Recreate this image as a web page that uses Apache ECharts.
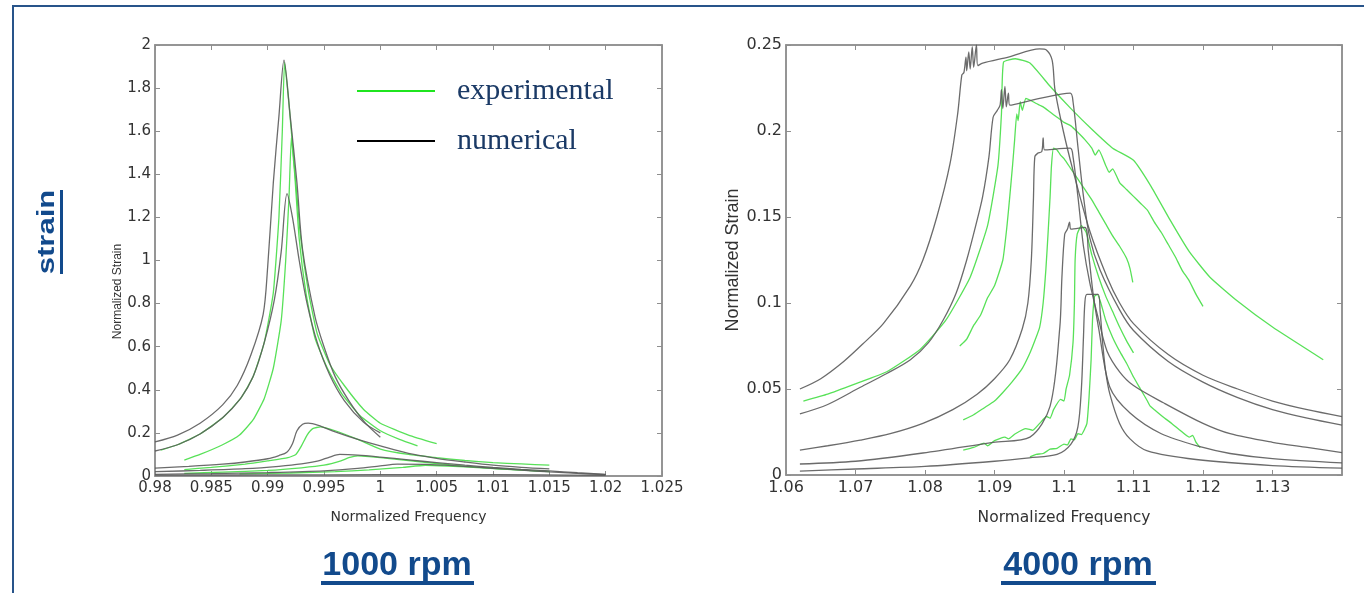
<!DOCTYPE html>
<html>
<head>
<meta charset="utf-8">
<title>Normalized strain vs frequency</title>
<script src="https://cdn.jsdelivr.net/npm/echarts@6/dist/echarts.min.js"></script>
<style>
  html, body { margin: 0; padding: 0; background: #ffffff; }
  #chart { width: 1364px; height: 593px; }
</style>
</head>
<body>
<div id="chart"></div>
<script>
// ---------- 1000 rpm : numerical response curves [frequency, strain] ----------
const num1000A = [[0.98,0.158],[0.982,0.19],[0.984,0.245],[0.986,0.33],[0.9873,0.42],[0.9885,0.56],[0.9896,0.75],[0.99,0.97],[0.9905,1.36],[0.991,1.67],[0.99145,1.93],[0.992,1.67],[0.9926,1.36],[0.9931,1.05],[0.9942,0.74],[0.995,0.6],[0.996,0.46],[0.9972,0.35],[0.9986,0.25],[1.0,0.18]];
const num1000B = [[0.98,0.116],[0.982,0.145],[0.984,0.195],[0.986,0.27],[0.9876,0.36],[0.9887,0.46],[0.9897,0.62],[0.9906,0.82],[0.9912,1.04],[0.99172,1.31],[0.9922,1.2],[0.9928,1.0],[0.9935,0.8],[0.9944,0.62],[0.9955,0.47],[0.9968,0.35],[0.9985,0.25],[1.0,0.2]];
const num1000C = [[0.98,0.037],[0.983,0.045],[0.986,0.055],[0.988,0.065],[0.99,0.08],[0.991,0.095],[0.9917,0.11],[0.9922,0.15],[0.9926,0.21],[0.9931,0.24],[0.9936,0.245],[0.9945,0.235],[0.996,0.205],[0.998,0.17],[1.0,0.14],[1.0025,0.105],[1.005,0.082],[1.0075,0.065],[1.01,0.05],[1.0125,0.04],[1.015,0.033]];
const num1000D = [[0.98,0.02],[0.984,0.026],[0.988,0.034],[0.991,0.045],[0.993,0.056],[0.9945,0.07],[0.9955,0.088],[0.9964,0.1],[0.998,0.097],[1.0,0.088],[1.0025,0.075],[1.005,0.062],[1.0075,0.05],[1.01,0.04],[1.0125,0.031],[1.015,0.024],[1.0175,0.015],[1.02,0.008]];
const num1000E = [[0.98,0.008],[0.985,0.011],[0.99,0.016],[0.995,0.024],[0.998,0.035],[1.0,0.047],[1.0015,0.055],[1.004,0.054],[1.007,0.046],[1.01,0.036],[1.0125,0.027],[1.015,0.019],[1.0175,0.012],[1.02,0.006]];
const num1000F = [[0.98,0.004],[0.99,0.005],[1.0,0.006],[1.01,0.006],[1.02,0.003]];

// ---------- 1000 rpm : measured curves ----------
const exp1000A = [[0.9805,0.12],[0.982,0.145],[0.984,0.195],[0.986,0.27],[0.9876,0.36],[0.9887,0.46],[0.9897,0.62],[0.9905,0.85],[0.991,1.2],[0.9913,1.6],[0.9915,1.92],[0.9919,1.72],[0.9924,1.42],[0.9929,1.12],[0.9936,0.86],[0.9944,0.66],[0.9955,0.52],[0.9968,0.42],[0.9985,0.31],[1.0,0.245],[1.0025,0.19],[1.005,0.15]];
const exp1000B = [[0.9826,0.074],[0.984,0.1],[0.986,0.145],[0.9875,0.19],[0.9887,0.26],[0.9897,0.36],[0.9905,0.5],[0.9912,0.72],[0.9916,1.0],[0.9919,1.3],[0.9921,1.57],[0.9924,1.4],[0.9928,1.1],[0.9934,0.85],[0.9942,0.64],[0.9953,0.5],[0.9966,0.38],[0.9982,0.28],[1.0,0.21],[1.0017,0.17],[1.0033,0.14]];
const exp1000C = [[0.9826,0.03],[0.985,0.04],[0.988,0.055],[0.99,0.07],[0.9918,0.085],[0.9925,0.1],[0.993,0.14],[0.9935,0.19],[0.994,0.22],[0.9947,0.228],[0.996,0.21],[0.998,0.17],[1.0,0.125],[1.0025,0.1],[1.005,0.085],[1.0075,0.072],[1.01,0.062],[1.0125,0.056],[1.015,0.05]];
const exp1000D = [[0.9826,0.012],[0.986,0.018],[0.99,0.026],[0.993,0.038],[0.995,0.05],[0.9965,0.07],[0.9972,0.085],[0.998,0.093],[0.999,0.09],[1.0,0.085],[1.0025,0.072],[1.005,0.058],[1.0075,0.046],[1.01,0.036],[1.0125,0.028],[1.015,0.02]];
const exp1000E = [[0.9875,0.01],[0.992,0.014],[0.996,0.02],[0.999,0.028],[1.002,0.04],[1.004,0.05],[1.006,0.046],[1.009,0.038],[1.012,0.029],[1.015,0.021]];

// ---------- 4000 rpm : numerical response curves ----------
const num4000A = [[1.062,0.05],[1.065,0.056],[1.0683,0.066],[1.071,0.076],[1.074,0.088],[1.0779,0.11],[1.0797,0.125],[1.0817,0.15],[1.0836,0.181],[1.0847,0.21],[1.0853,0.2326],[1.0856,0.234],[1.0859,0.243],[1.086,0.235],[1.0863,0.246],[1.0865,0.236],[1.0868,0.249],[1.087,0.237],[1.0874,0.25],[1.0876,0.238],[1.0883,0.2395],[1.092,0.243],[1.0965,0.2477],[1.0975,0.247],[1.0983,0.241],[1.0987,0.224],[1.0999,0.2],[1.1013,0.177],[1.1037,0.142],[1.1062,0.115],[1.108,0.1],[1.11,0.088],[1.115,0.07],[1.12,0.058],[1.125,0.05],[1.13,0.043],[1.135,0.038],[1.14,0.034]];
const num4000B = [[1.062,0.0355],[1.066,0.041],[1.0707,0.051],[1.0745,0.059],[1.0779,0.067],[1.0805,0.077],[1.0826,0.09],[1.0845,0.106],[1.086,0.125],[1.0873,0.145],[1.0883,0.162],[1.0892,0.185],[1.0898,0.208],[1.0904,0.212],[1.0908,0.215],[1.091,0.224],[1.0912,0.213],[1.0915,0.226],[1.0917,0.214],[1.092,0.222],[1.0922,0.215],[1.0965,0.219],[1.1009,0.222],[1.1013,0.217],[1.102,0.191],[1.1028,0.162],[1.1037,0.138],[1.1052,0.119],[1.108,0.096],[1.11,0.084],[1.115,0.066],[1.12,0.054],[1.125,0.045],[1.13,0.038],[1.135,0.033],[1.14,0.029]];
const num4000C = [[1.062,0.0145],[1.066,0.017],[1.0707,0.0203],[1.075,0.024],[1.0797,0.03],[1.084,0.038],[1.0875,0.047],[1.09,0.056],[1.0922,0.067],[1.094,0.085],[1.0948,0.1],[1.0953,0.125],[1.0956,0.16],[1.0958,0.185],[1.0962,0.187],[1.0968,0.188],[1.097,0.196],[1.0972,0.189],[1.1009,0.19],[1.1013,0.185],[1.102,0.162],[1.1028,0.133],[1.1037,0.112],[1.105,0.09],[1.1062,0.072],[1.108,0.06],[1.11,0.052],[1.1143,0.042],[1.12,0.03],[1.1239,0.024],[1.13,0.019],[1.135,0.016],[1.14,0.013]];
const num4000D = [[1.062,0.0064],[1.07,0.008],[1.0797,0.0128],[1.0898,0.019],[1.0951,0.022],[1.098,0.04],[1.0994,0.086],[1.0997,0.115],[1.1001,0.14],[1.1005,0.143],[1.1008,0.147],[1.101,0.143],[1.103,0.144],[1.1035,0.13],[1.1042,0.105],[1.105,0.085],[1.1066,0.051],[1.1095,0.036],[1.114,0.024],[1.12,0.016],[1.1239,0.0125],[1.13,0.0095],[1.14,0.007]];
const num4000E = [[1.062,0.0023],[1.07,0.0035],[1.08,0.005],[1.09,0.008],[1.095,0.01],[1.099,0.012],[1.101,0.018],[1.102,0.028],[1.1025,0.05],[1.1028,0.08],[1.103,0.1],[1.1033,0.105],[1.1049,0.105],[1.1052,0.095],[1.1056,0.075],[1.106,0.06],[1.1066,0.047],[1.108,0.03],[1.1095,0.021],[1.112,0.014],[1.119,0.009],[1.13,0.0055],[1.14,0.004]];

// ---------- 4000 rpm : measured curves ----------
const exp4000A = [[1.0625,0.043],[1.066,0.047],[1.07,0.053],[1.0745,0.06],[1.0793,0.073],[1.083,0.09],[1.0865,0.115],[1.089,0.145],[1.0905,0.18],[1.091,0.21],[1.0913,0.24],[1.093,0.242],[1.0951,0.2395],[1.098,0.226],[1.101,0.213],[1.104,0.201],[1.107,0.19],[1.11,0.183],[1.1125,0.168],[1.1153,0.148],[1.118,0.13],[1.121,0.115],[1.125,0.101],[1.13,0.086],[1.1373,0.067]];
const exp4000B = [[1.085,0.075],[1.086,0.079],[1.087,0.087],[1.088,0.093],[1.089,0.103],[1.09,0.11],[1.0912,0.125],[1.0918,0.145],[1.0922,0.162],[1.0926,0.18],[1.0929,0.195],[1.0932,0.21],[1.0934,0.206],[1.0937,0.217],[1.094,0.212],[1.0945,0.219],[1.0951,0.218],[1.096,0.216],[1.097,0.214],[1.098,0.211],[1.099,0.208],[1.1,0.205],[1.101,0.203],[1.1018,0.2],[1.103,0.195],[1.104,0.19],[1.1045,0.186],[1.105,0.189],[1.106,0.18],[1.1065,0.176],[1.107,0.178],[1.108,0.17],[1.109,0.166],[1.11,0.162],[1.111,0.158],[1.112,0.154],[1.113,0.147],[1.114,0.141],[1.115,0.134],[1.116,0.127],[1.117,0.119],[1.118,0.113],[1.119,0.105],[1.12,0.098]];
const exp4000C = [[1.0855,0.032],[1.087,0.035],[1.0885,0.039],[1.09,0.043],[1.0912,0.048],[1.0925,0.054],[1.094,0.062],[1.095,0.07],[1.0958,0.078],[1.0965,0.086],[1.097,0.1],[1.0974,0.12],[1.0977,0.14],[1.098,0.162],[1.0982,0.18],[1.0985,0.19],[1.099,0.189],[1.0995,0.186],[1.1,0.184],[1.101,0.178],[1.102,0.172],[1.103,0.166],[1.104,0.16],[1.105,0.153],[1.106,0.146],[1.107,0.139],[1.108,0.133],[1.109,0.126],[1.1095,0.12],[1.1099,0.112]];
const exp4000D = [[1.0855,0.0145],[1.087,0.016],[1.0885,0.0185],[1.089,0.017],[1.09,0.02],[1.0915,0.022],[1.092,0.021],[1.093,0.024],[1.0945,0.027],[1.0955,0.026],[1.0965,0.03],[1.0975,0.034],[1.098,0.033],[1.0985,0.038],[1.0995,0.044],[1.1,0.043],[1.1003,0.05],[1.1008,0.058],[1.1013,0.077],[1.1015,0.1],[1.1016,0.125],[1.1019,0.14],[1.1025,0.145],[1.1032,0.141],[1.104,0.128],[1.105,0.115],[1.106,0.104],[1.107,0.095],[1.108,0.086],[1.109,0.078],[1.11,0.071]];
const exp4000E = [[1.0951,0.0105],[1.096,0.012],[1.097,0.0125],[1.098,0.015],[1.099,0.0155],[1.1,0.018],[1.1005,0.0175],[1.101,0.021],[1.1015,0.0205],[1.102,0.024],[1.1025,0.0235],[1.103,0.027],[1.1033,0.03],[1.1036,0.045],[1.1039,0.067],[1.1041,0.09],[1.1044,0.104],[1.1048,0.105],[1.1053,0.1],[1.106,0.09],[1.107,0.08],[1.108,0.072],[1.109,0.065],[1.1095,0.061],[1.11,0.057],[1.111,0.05],[1.112,0.043],[1.1124,0.04],[1.113,0.038],[1.1145,0.033],[1.1155,0.03],[1.1167,0.026],[1.118,0.022],[1.1185,0.023],[1.119,0.019],[1.1196,0.016]];

// ---------- axis ranges ----------
const freqRange1000 = { min: 0.98, max: 1.025, step: 0.005 };
const strainRange1000 = { min: 0, max: 2, step: 0.2 };
const freqRange4000 = { min: 1.06, max: 1.14, step: 0.01 };
const strainRange4000 = { min: 0, max: 0.25, step: 0.05 };

const legendNames = ['experimental', 'numerical'];
const panelTitles = ['1000 rpm', '4000 rpm'];
const sideTitle = 'strain';
const axisNames = { x: 'Normalized Frequency', y: 'Normalized Strain' };

// ---------- styling ----------
const NUM_COLOR = '#5b5b5b';
const EXP_COLOR = '#4fdf4f';
const FRAME = '#8e8e8e';
const TICK_TEXT = '#333333';
const NAVY = '#124a8c';

const chart = echarts.init(document.getElementById('chart'), null, { renderer: 'canvas' });

function frameAxes(gridIndex, range, kind, labelSize, nameSize, nameGap, nameFont, namePadding) {
  const line = { show: true, onZero: false, lineStyle: { color: FRAME, width: 1.5 } };
  const tick = { show: true, inside: true, length: 5, lineStyle: { color: FRAME, width: 1 } };
  const isX = kind === 'x';
  const main = {
    gridIndex, type: 'value', min: range.min, max: range.max, interval: range.step,
    position: isX ? 'bottom' : 'left',
    axisLine: line, axisTick: tick, splitLine: { show: false },
    axisLabel: { fontFamily: 'DejaVu Sans', fontSize: labelSize, color: TICK_TEXT, margin: isX ? 5 : 4 },
    name: isX ? axisNames.x : axisNames.y,
    nameLocation: 'middle', nameGap: nameGap,
    nameTextStyle: { fontFamily: nameFont, fontSize: nameSize, color: TICK_TEXT, padding: namePadding || 0 }
  };
  const mirror = {
    gridIndex, type: 'value', min: range.min, max: range.max, interval: range.step,
    position: isX ? 'top' : 'right',
    axisLine: line, axisTick: tick, splitLine: { show: false }, axisLabel: { show: false }
  };
  return [main, mirror];
}

const xAxes = [
  ...frameAxes(0, freqRange1000, 'x', 15, 14, 34, 'DejaVu Sans'),
  ...frameAxes(1, freqRange4000, 'x', 16, 15.5, 35, 'DejaVu Sans')
];
xAxes[2].axisLabel.showMaxLabel = false;
const yAxes = [
  // the left strain title sits a little below the middle of its axis
  ...frameAxes(0, strainRange1000, 'y', 15, 12, 28, 'Liberation Sans', [0, 62, 0, 0]),
  ...frameAxes(1, strainRange4000, 'y', 16, 18, 44, 'Liberation Sans')
];

function curve(name, data, panel) {
  const isNum = name === 'numerical';
  return {
    name, type: 'line', data,
    xAxisIndex: panel * 2, yAxisIndex: panel * 2,
    showSymbol: false, symbol: 'none',
    smooth: isNum ? 0.3 : 0.15,
    lineStyle: { color: isNum ? NUM_COLOR : EXP_COLOR, width: 1.3, opacity: isNum ? 0.9 : 0.95 },
    emphasis: { disabled: true }, silent: true, z: isNum ? 3 : 2
  };
}

const series = [
  curve('numerical', num1000A, 0), curve('numerical', num1000B, 0), curve('numerical', num1000C, 0),
  curve('numerical', num1000D, 0), curve('numerical', num1000E, 0), curve('numerical', num1000F, 0),
  curve('experimental', exp1000A, 0), curve('experimental', exp1000B, 0), curve('experimental', exp1000C, 0),
  curve('experimental', exp1000D, 0), curve('experimental', exp1000E, 0),
  curve('numerical', num4000A, 1), curve('numerical', num4000B, 1), curve('numerical', num4000C, 1),
  curve('numerical', num4000D, 1), curve('numerical', num4000E, 1),
  curve('experimental', exp4000A, 1), curve('experimental', exp4000B, 1), curve('experimental', exp4000C, 1),
  curve('experimental', exp4000D, 1), curve('experimental', exp4000E, 1)
];

const option = {
  backgroundColor: '#ffffff',
  animation: false,
  grid: [
    { left: 155, top: 45, width: 507, height: 431, show: true, borderColor: FRAME, borderWidth: 1.5, backgroundColor: '#fff' },
    { left: 786, top: 45, width: 556, height: 430, show: true, borderColor: FRAME, borderWidth: 1.5, backgroundColor: '#fff' }
  ],
  legend: {
    left: 352, top: 71, orient: 'vertical', selectedMode: false,
    itemWidth: 78, itemHeight: 2, itemGap: 20,
    textStyle: { fontFamily: 'Liberation Serif', fontSize: 30, lineHeight: 30, color: '#1b3a66', padding: [0, 0, 0, 17] },
    data: [
      { name: legendNames[0], icon: 'rect', itemStyle: { color: '#1fe51f', borderWidth: 0 } },
      { name: legendNames[1], icon: 'rect', itemStyle: { color: '#000000', borderWidth: 0 } }
    ]
  },
  xAxis: xAxes,
  yAxis: yAxes,
  series,
  graphic: [
    { type: 'polyline', silent: true, shape: { points: [[13, 593], [13, 6], [1364, 6]] },
      style: { stroke: '#28548a', lineWidth: 2, fill: null } },
    { type: 'text', silent: true, x: 47, y: 232, rotation: Math.PI / 2, scaleX: 1.29,
      style: { text: sideTitle, font: 'bold 24px "Liberation Sans"', fill: NAVY, align: 'center', verticalAlign: 'middle' } },
    { type: 'rect', silent: true, shape: { x: 60, y: 190, width: 3, height: 84 }, style: { fill: NAVY } },
    { type: 'text', silent: true, x: 397, y: 566,
      style: { text: panelTitles[0], font: 'bold 34px "Liberation Sans"', fill: NAVY, align: 'center', verticalAlign: 'middle' } },
    { type: 'rect', silent: true, shape: { x: 321, y: 581, width: 153, height: 4 }, style: { fill: NAVY } },
    { type: 'text', silent: true, x: 1078, y: 566,
      style: { text: panelTitles[1], font: 'bold 34px "Liberation Sans"', fill: NAVY, align: 'center', verticalAlign: 'middle' } },
    { type: 'rect', silent: true, shape: { x: 1001, y: 581, width: 155, height: 4 }, style: { fill: NAVY } }
  ]
};

chart.setOption(option);
</script>
</body>
</html>
